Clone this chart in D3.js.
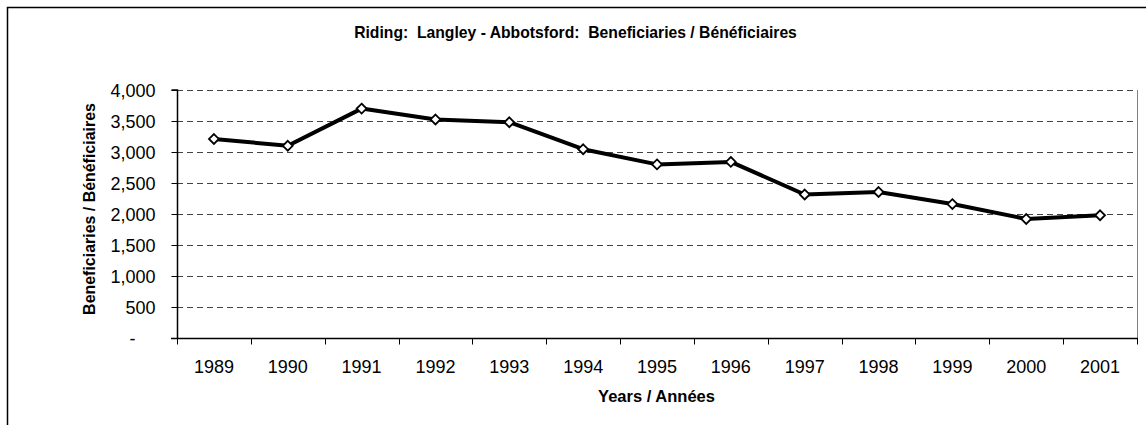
<!DOCTYPE html>
<html><head><meta charset="utf-8">
<script src="https://cdn.jsdelivr.net/npm/d3@7"></script>
<style>
html,body{margin:0;padding:0;background:#fff;}
svg{display:block;}
text{white-space:pre;}
</style></head>
<body>
<svg id="c" width="1146" height="425"></svg>
<script>
const years = ["1989","1990","1991","1992","1993","1994","1995","1996","1997","1998","1999","2000","2001"];
const beneficiaries = [3210,3100,3700,3525,3480,3045,2800,2840,2315,2355,2160,1920,1980];
const yTicks = [0,500,1000,1500,2000,2500,3000,3500,4000];
const title = "Riding:  Langley - Abbotsford:  Beneficiaries / Bénéficiaires";
const xTitle = "Years / Années";
const yTitle = "Beneficiaries / Bénéficiaires";

const svg = d3.select("#c");
const m = {left:177, top:90, right:1137, bottom:338};
const reg = "'Liberation Sans',Arial,sans-serif";

svg.append("rect").attr("x",7.5).attr("y",7.5).attr("width",1160).attr("height",440)
  .attr("fill","none").attr("stroke","#000").attr("stroke-width",1.5);

const x = d3.scaleBand().domain(years).range([m.left,m.right]).padding(0);
const y = d3.scaleLinear().domain([0,4000]).range([m.bottom,m.top]);

// gridlines
svg.append("g").selectAll("line").data(yTicks.filter(d=>d>0)).join("line")
  .attr("x1",m.left).attr("x2",m.right)
  .attr("y1",d=>Math.round(y(d))+0.5).attr("y2",d=>Math.round(y(d))+0.5)
  .attr("stroke","#444").attr("stroke-width",1).attr("stroke-dasharray","6,4");

// right border
svg.append("line").attr("x1",m.right+0.5).attr("x2",m.right+0.5).attr("y1",m.top).attr("y2",m.bottom)
  .attr("stroke","#808080").attr("stroke-width",1);

// y axis
const yAxis = d3.axisLeft(y).tickValues(yTicks).tickSize(6).tickPadding(16)
  .tickFormat(d=> d===0 ? "-" : d3.format(",")(d));
const gy = svg.append("g").attr("transform",`translate(${m.left+0.5},0)`).call(yAxis);
gy.select(".domain").attr("stroke","#000").attr("stroke-width",1.5).attr("d",`M-6,${m.top}H0V${m.bottom}`);
gy.selectAll(".tick line").attr("stroke","#000");
gy.selectAll(".tick text").attr("font-family",reg).attr("font-size",18).attr("fill","#000").attr("dy","0.36em");
gy.selectAll(".tick").filter(d=>d===0).select("text").attr("dx",-20);

// x axis
const gx = svg.append("g").attr("transform",`translate(0,${m.bottom+0.5})`);
gx.append("line").attr("x1",m.left-6).attr("x2",m.right+1).attr("y1",0).attr("y2",0)
  .attr("stroke","#000").attr("stroke-width",1.5);
const bounds = years.map(d=>x(d)).concat([m.right]);
gx.selectAll("line.t").data(bounds).join("line").attr("class","t")
  .attr("x1",d=>Math.round(d)+0.5).attr("x2",d=>Math.round(d)+0.5).attr("y1",0).attr("y2",6)
  .attr("stroke","#000");
gx.selectAll("text").data(years).join("text")
  .attr("x",d=>x(d)+x.bandwidth()/2).attr("y",34)
  .attr("text-anchor","middle").attr("font-family",reg).attr("font-size",18).text(d=>d);

// line
const line = d3.line().x((d,i)=>x(years[i])+x.bandwidth()/2).y(d=>y(d));
svg.append("path").datum(beneficiaries).attr("d",line)
  .attr("fill","none").attr("stroke","#000").attr("stroke-width",4).attr("stroke-linejoin","round");

// markers
const sym = d3.symbol().type(d3.symbolDiamond2).size(62);
svg.append("g").selectAll("path").data(beneficiaries).join("path")
  .attr("transform",(d,i)=>`translate(${x(years[i])+x.bandwidth()/2},${y(d)})`)
  .attr("d",sym).attr("fill","#fff").attr("stroke","#000").attr("stroke-width",1.8);

// titles (condensed bold, fitted to reference widths)
function fitted(tx, ty, rot, txt, size, w){
  const t = svg.append("text").attr("text-anchor","middle")
    .attr("font-family",reg).attr("font-weight","bold").attr("font-size",size).text(txt);
  const len = t.node().getComputedTextLength();
  const s = w/len;
  t.attr("transform",`translate(${tx},${ty}) rotate(${rot}) scale(${s},1)`);
  return t;
}
fitted(575.5, 38, 0, title, 17, 443);
fitted(656.5, 402, 0, xTitle, 17, 117);
fitted(95, 209, -90, yTitle, 17, 212);
</script>
</body></html>
